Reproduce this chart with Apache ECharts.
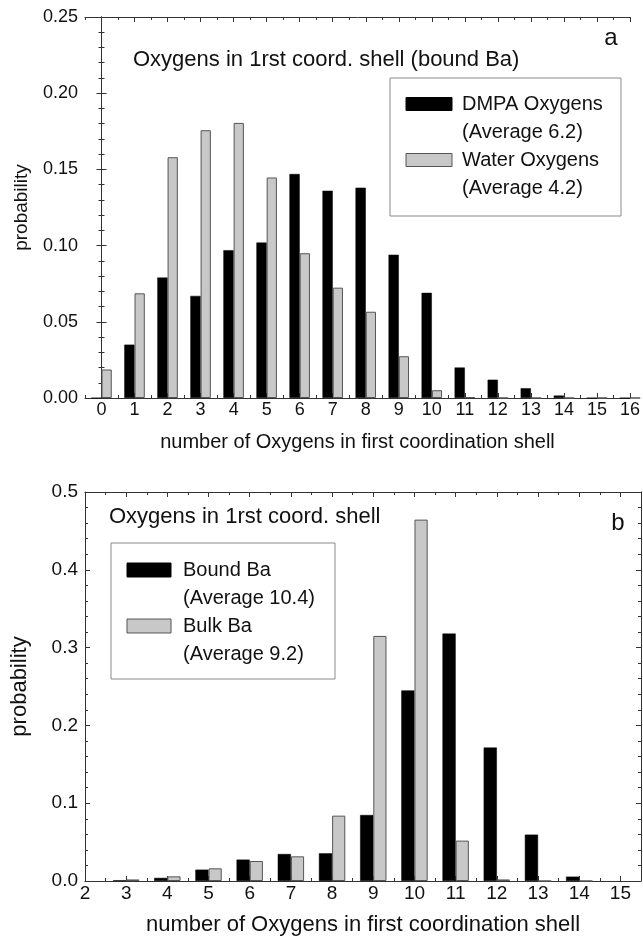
<!DOCTYPE html>
<html>
<head>
<meta charset="utf-8">
<script src="https://cdn.jsdelivr.net/npm/echarts@6/dist/echarts.min.js"></script>
<style>
  html, body { margin: 0; padding: 0; background: #ffffff; }
  #chart { width: 643px; height: 938px; }
</style>
</head>
<body>
<div id="chart"></div>
<script>
// ---- Panel a: oxygens around the bound Ba ion ----
const countsA = [0, 1, 2, 3, 4, 5, 6, 7, 8, 9, 10, 11, 12, 13, 14, 15, 16];
const dmpaOxygens  = [0, 0.035, 0.079, 0.067, 0.097, 0.102, 0.147, 0.136, 0.138, 0.094, 0.069, 0.020, 0.012, 0.0064, 0.0016, 0, 0];
const waterOxygens = [0.0187, 0.0687, 0.158, 0.1757, 0.1805, 0.1447, 0.095, 0.0724, 0.0566, 0.0274, 0.0051, 0.0006, 0, 0, 0, 0, 0];
const xTicksA = [0, 1, 2, 3, 4, 5, 6, 7, 8, 9, 10, 11, 12, 13, 14, 15, 16];
const xMinorA = [-0.5, 0.5, 1.5, 2.5, 3.5, 4.5, 5.5, 6.5, 7.5, 8.5, 9.5, 10.5, 11.5, 12.5, 13.5, 14.5, 15.5];
const yTicksA = [0, 0.05, 0.10, 0.15, 0.20, 0.25];
const titleA = 'Oxygens in 1rst coord. shell (bound Ba)';
const legendA = [['DMPA Oxygens', '(Average 6.2)'], ['Water Oxygens', '(Average 4.2)']];

// ---- Panel b: bound vs bulk Ba ----
const countsB = [3, 4, 5, 6, 7, 8, 9, 10, 11, 12, 13, 14];
const boundBa = [0.001, 0.004, 0.0146, 0.0275, 0.0347, 0.0356, 0.0848, 0.245, 0.318, 0.1715, 0.0596, 0.0056];
const bulkBa  = [0.002, 0.006, 0.0163, 0.0257, 0.0317, 0.084, 0.315, 0.4645, 0.0519, 0.002, 0, 0];
const xTicksB = [2, 3, 4, 5, 6, 7, 8, 9, 10, 11, 12, 13, 14, 15];
const xMinorB = [2.5, 3.5, 4.5, 5.5, 6.5, 7.5, 8.5, 9.5, 10.5, 11.5, 12.5, 13.5, 14.5];
const yTicksB = [0, 0.1, 0.2, 0.3, 0.4, 0.5];
const titleB = 'Oxygens in 1rst coord. shell';
const legendB = [['Bound Ba', '(Average 10.4)'], ['Bulk Ba', '(Average 9.2)']];

const xName = 'number of Oxygens in first coordination shell';
const yName = 'probability';

const FONT = 'Liberation Sans, Arial, sans-serif';
const INK = '#111';
const FRAME = '#333';
const DARK = '#000000';
const LIGHT = '#c8c8c8';
const LIGHT_EDGE = '#555555';

const chart = echarts.init(document.getElementById('chart'), null, { renderer: 'canvas' });

// four x axes per panel: labelled bottom, bottom minor ticks, top frame, top minor ticks
function xAxesFor(gridIndex, min, max, majors, minors, labelSize, nameSize, nameGap) {
  const base = {
    type: 'value', gridIndex, min, max,
    splitLine: { show: false }
  };
  return [
    Object.assign({}, base, {
      position: 'bottom',
      name: xName, nameLocation: 'middle', nameGap,
      nameTextStyle: { fontFamily: FONT, fontSize: nameSize, color: INK },
      axisLine: { show: true, lineStyle: { color: FRAME, width: 1 } },
      axisTick: { show: true, inside: true, length: 5, customValues: majors, lineStyle: { color: FRAME } },
      axisLabel: { show: true, customValues: majors, margin: 3, fontFamily: FONT, fontSize: labelSize, color: INK,
                   formatter: v => String(Math.round(v)) }
    }),
    Object.assign({}, base, {
      position: 'bottom',
      axisLine: { show: false },
      axisTick: { show: true, inside: true, length: 3, customValues: minors, lineStyle: { color: FRAME } },
      axisLabel: { show: false }
    }),
    Object.assign({}, base, {
      position: 'top',
      axisLine: { show: true, lineStyle: { color: FRAME, width: 1 } },
      axisTick: { show: true, inside: true, length: 5, customValues: majors, lineStyle: { color: FRAME } },
      axisLabel: { show: false }
    }),
    Object.assign({}, base, {
      position: 'top',
      axisLine: { show: false },
      axisTick: { show: true, inside: true, length: 3, customValues: minors, lineStyle: { color: FRAME } },
      axisLabel: { show: false }
    })
  ];
}

function yAxesFor(gridIndex, ticks, digits, labelSize, nameSize, nameGap) {
  const base = {
    type: 'value', gridIndex,
    min: ticks[0], max: ticks[ticks.length - 1], interval: ticks[1] - ticks[0],
    splitLine: { show: false },
    axisLine: { show: true, lineStyle: { color: FRAME, width: 1 } },
    axisTick: { show: true, inside: true, length: 5, lineStyle: { color: FRAME } },
    minorTick: { show: true, splitNumber: 5, length: 3, lineStyle: { color: FRAME } }
  };
  return [
    Object.assign({}, base, {
      position: 'left',
      name: yName, nameLocation: 'middle', nameGap,
      nameTextStyle: { fontFamily: FONT, fontSize: nameSize, color: INK },
      axisLabel: { show: true, margin: 7, fontFamily: FONT, fontSize: labelSize, color: INK,
                   formatter: v => v.toFixed(digits) }
    }),
    Object.assign({}, base, {
      position: 'right',
      axisLabel: { show: false }
    })
  ];
}

function pairs(xs, ys) { return xs.map((x, i) => [x, ys[i]]); }

function legendGraphics(box, swatch, textX, rows, entries, size) {
  const els = [{
    type: 'rect', z: 10,
    shape: { x: box[0], y: box[1], width: box[2], height: box[3] },
    style: { fill: '#ffffff', stroke: '#8a8a8a', lineWidth: 1 }
  }];
  entries.forEach((entry, k) => {
    const yMain = rows[2 * k];
    els.push({
      type: 'rect', z: 11,
      shape: { x: swatch[0], y: yMain - swatch[2] / 2, width: swatch[1], height: swatch[2] },
      style: k === 0 ? { fill: DARK, stroke: DARK, lineWidth: 1 } : { fill: LIGHT, stroke: LIGHT_EDGE, lineWidth: 1 }
    });
    entry.forEach((line, j) => {
      els.push({
        type: 'text', z: 11, x: textX, y: rows[2 * k + j],
        style: { text: line, font: size + 'px ' + FONT, fill: INK, align: 'left', verticalAlign: 'middle' }
      });
    });
  });
  return els;
}

const option = {
  backgroundColor: '#ffffff',
  animation: false,
  grid: [
    { left: 85, top: 17, width: 545, height: 381, containLabel: false },
    { left: 85, top: 492, width: 556, height: 389, containLabel: false }
  ],
  xAxis: [].concat(
    xAxesFor(0, -0.5, 16, xTicksA, xMinorA, 18, 20, 34),
    xAxesFor(1, 2, 15.5, xTicksB, xMinorB, 19, 22, 33)
  ),
  yAxis: [].concat(
    yAxesFor(0, yTicksA, 2, 18, 19, 54),
    yAxesFor(1, yTicksB, 1, 19, 22, 54)
  ),
  series: [
    { type: 'bar', name: 'DMPA Oxygens', xAxisIndex: 0, yAxisIndex: 0, data: pairs(countsA, dmpaOxygens),
      barWidth: '31%', barGap: '0%', itemStyle: { color: DARK, borderColor: DARK, borderWidth: 0.5 } },
    { type: 'bar', name: 'Water Oxygens', xAxisIndex: 0, yAxisIndex: 0, data: pairs(countsA, waterOxygens),
      barWidth: '31%', barGap: '0%', itemStyle: { color: LIGHT, borderColor: LIGHT_EDGE, borderWidth: 1 } },
    { type: 'bar', name: 'Bound Ba', xAxisIndex: 4, yAxisIndex: 2, data: pairs(countsB, boundBa),
      barWidth: '32%', barGap: '0%', itemStyle: { color: DARK, borderColor: DARK, borderWidth: 0.5 } },
    { type: 'bar', name: 'Bulk Ba', xAxisIndex: 4, yAxisIndex: 2, data: pairs(countsB, bulkBa),
      barWidth: '32%', barGap: '0%', itemStyle: { color: LIGHT, borderColor: LIGHT_EDGE, borderWidth: 1 } }
  ],
  graphic: [].concat(
    [
      { type: 'text', z: 11, x: 133, y: 60,
        style: { text: titleA, font: '22px ' + FONT, fill: INK, align: 'left', verticalAlign: 'middle' } },
      { type: 'text', z: 11, x: 611, y: 38,
        style: { text: 'a', font: '24px ' + FONT, fill: INK, align: 'center', verticalAlign: 'middle' } },
      { type: 'text', z: 11, x: 109, y: 517,
        style: { text: titleB, font: '22px ' + FONT, fill: INK, align: 'left', verticalAlign: 'middle' } },
      { type: 'text', z: 11, x: 618, y: 523,
        style: { text: 'b', font: '24px ' + FONT, fill: INK, align: 'center', verticalAlign: 'middle' } }
    ],
    legendGraphics([390, 78, 231, 138], [406, 46, 13], 462, [104, 132, 160, 188], legendA, 20),
    legendGraphics([111, 543, 224, 136], [127, 44, 14], 183, [570, 598, 626, 654], legendB, 20)
  )
};

chart.setOption(option);
</script>
</body>
</html>
